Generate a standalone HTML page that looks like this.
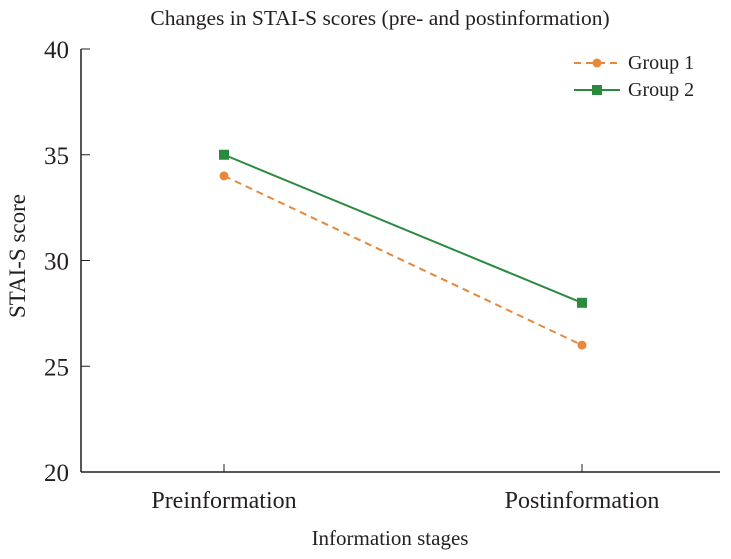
<!DOCTYPE html>
<html><head><meta charset="utf-8"><style>
body{margin:0;background:#fff}
svg text{font-family:"Liberation Serif",serif;fill:#231f20}
</style></head><body>
<svg id="chart" width="731" height="554">
<text x="380" y="25" font-size="21.5" text-anchor="middle">Changes in STAI-S scores (pre- and postinformation)</text>
<text transform="translate(25,256) rotate(-90)" font-size="23" text-anchor="middle">STAI-S score</text>
<text x="390" y="545" font-size="21" text-anchor="middle">Information stages</text>
<g id="axes"></g><g id="series"></g><g id="legend"></g>
</svg>
<script>
const categories=["Preinformation","Postinformation"];
const group1=[34,26];
const group2=[35,28];
const yTicks=[20,25,30,35,40];
const seriesNames=["Group 1","Group 2"];
const NS="http://www.w3.org/2000/svg";
const x0=81,x1=720,yTop=49,yBot=472;
const catX=[224,582];
function y(v){return yBot-(v-20)/20*(yBot-yTop);}
function x(i){return catX[0]+i*(catX[1]-catX[0])/(categories.length-1);}
function mk(t,a,p){const e=document.createElementNS(NS,t);for(const k in a)e.setAttribute(k,a[k]);p.appendChild(e);return e;}
const ax=document.getElementById('axes');
let l=mk('line',{x1:x0,y1:yTop,x2:x0,y2:yBot,stroke:'#231f20','stroke-width':1.5},ax);


l=mk('line',{x1:x0,y1:yBot,x2:x1,y2:yBot,stroke:'#231f20','stroke-width':1.5},ax);


yTicks.forEach(v=>{
 const t=mk('line',{x1:x0,y1:y(v),x2:x0+9,y2:y(v),stroke:'#231f20','stroke-width':1},ax);
 
 
 const tx=mk('text',{x:x0-12,y:y(v)+9,'font-size':25,'text-anchor':'end'},ax);tx.textContent=v;
 
 
});
categories.forEach((c,i)=>{
 const t=mk('line',{x1:x(i),y1:yBot,x2:x(i),y2:yBot-8,stroke:'#231f20','stroke-width':1},ax);
 
 
 const tx=mk('text',{x:x(i),y:508,'font-size':24,'text-anchor':'middle'},ax);tx.textContent=c;
 
 
});
const se=document.getElementById('series');
const cfg=[{d:group1,c:'#e8883a',dash:'7,5',m:'circle'},{d:group2,c:'#2a8a3e',dash:'',m:'square'}];
cfg.forEach((s,k)=>{
 const pl=mk('polyline',{points:s.d.map((v,i)=>x(i)+','+y(v)).join(' '),fill:'none',stroke:s.c,'stroke-width':2,'stroke-dasharray':s.dash},se);
 
 
 s.d.forEach((v,i)=>{
  let p;
  if(s.m==='circle')p=mk('circle',{cx:x(i),cy:y(v),r:4.5,fill:s.c},se);
  else p=mk('rect',{x:x(i)-5,y:y(v)-5,width:10,height:10,fill:s.c},se);
  
  
 });
 const lg=document.getElementById('legend');
 const ly=63+k*27;
 const ll=mk('line',{x1:574,y1:ly,x2:620,y2:ly,stroke:s.c,'stroke-width':2,'stroke-dasharray':s.dash?'7,5':''},lg);
 
 
 let m=s.m==='circle'?mk('circle',{cx:597,cy:ly,r:4.5,fill:s.c},lg):mk('rect',{x:592,y:ly-5,width:10,height:10,fill:s.c},lg);
 
 
 const tx=mk('text',{x:628,y:ly+6,'font-size':20},lg);tx.textContent=seriesNames[k];
 
 
});
</script>
</body></html>
